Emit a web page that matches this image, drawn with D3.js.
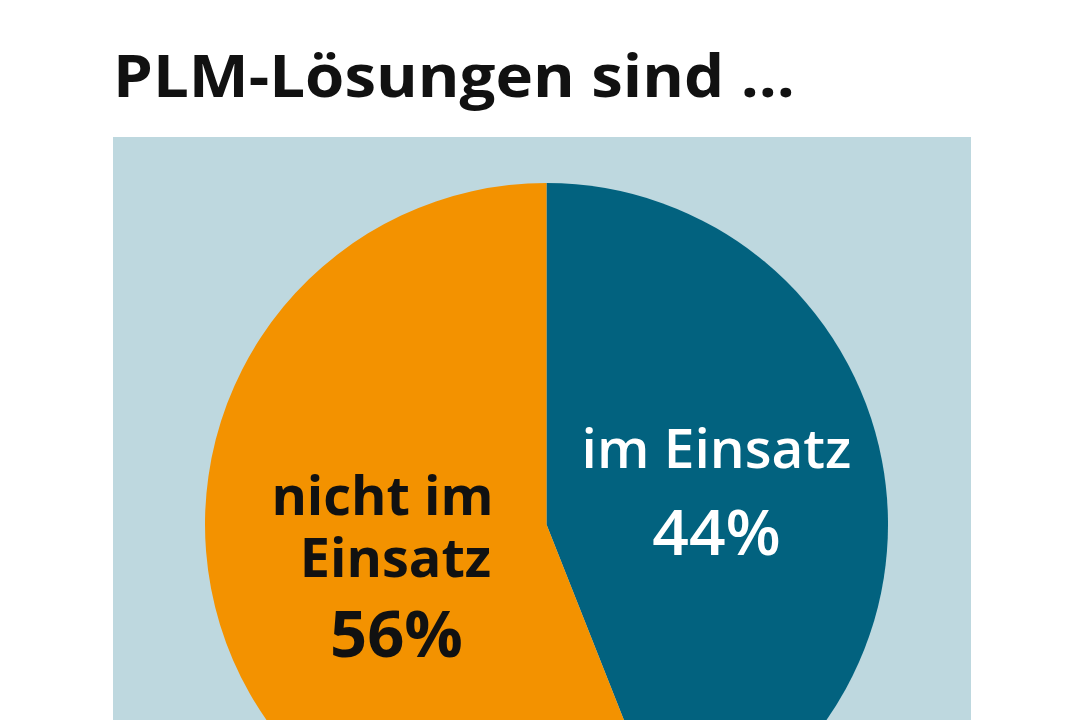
<!DOCTYPE html>
<html>
<head>
<meta charset="utf-8">
<script src="https://cdn.jsdelivr.net/npm/d3@7"></script>
<style>
  html, body { margin: 0; padding: 0; background: #ffffff; }
  svg { display: block; }
</style>
</head>
<body>
<svg id="chart" width="1080" height="720"></svg>
<script>
// ---- data ----
const title = "PLM-Lösungen sind ...";
const categories = ["im Einsatz", "nicht im Einsatz"];
const labelLines = [["im Einsatz"], ["nicht im", "Einsatz"]];
const values = [44, 56];
const colors = ["#02627f", "#f39200"];
const textColors = ["#ffffff", "#111111"];

// ---- layout ----
const W = 1080, H = 720;
const svg = d3.select("#chart");
const font = "'Open Sans', 'DejaVu Sans', sans-serif";

// background panel
svg.append("rect")
  .attr("x", 113).attr("y", 137)
  .attr("width", 858).attr("height", H - 137)
  .attr("fill", "#bed8df");

// title
svg.append("text")
  .attr("x", 113).attr("y", 97)
  .attr("font-family", font)
  .attr("font-weight", 700)
  .attr("font-size", 59)
  .attr("fill", "#111111")
  .attr("textLength", 682)
  .attr("lengthAdjust", "spacingAndGlyphs")
  .text(title);

const cx = 546.5, cy = 524.5, r = 341.5;
const pie = d3.pie().sort(null).value(d => d);
const arcs = pie(values);
const arc = d3.arc().innerRadius(0).outerRadius(r);

const g = svg.append("g").attr("transform", `translate(${cx},${cy})`);
g.selectAll("path.slice")
  .data(arcs)
  .join("path")
  .attr("class", "slice")
  .attr("d", arc)
  .attr("fill", (d, i) => colors[i]);

// labels
const labelArc = d3.arc().innerRadius(0).outerRadius(2 * 168);
const fmt = d => d + "%";
const labelSpecs = [
  { lineX: [0], lineY: [-25], pctX: 0, pctY: 62, lineSize: 55, pctSize: 64, dx: 5, weight: 600 },
  { lineX: [-8, 5], lineY: [-41, 21], pctX: 6, pctY: 101, lineSize: 54, pctSize: 65, dx: 9, weight: 700 }
];
arcs.forEach((a, i) => {
  const [lx, ly] = labelArc.centroid(a);
  const spec = labelSpecs[i];
  const t = g.append("g").attr("transform", `translate(${lx + spec.dx},${ly})`);
  labelLines[i].forEach((line, j) => {
    t.append("text")
      .attr("x", spec.lineX[j]).attr("y", spec.lineY[j])
      .attr("text-anchor", "middle")
      .attr("font-family", font)
      .attr("font-weight", spec.weight)
      .attr("font-size", spec.lineSize)
      .attr("fill", textColors[i])
      .text(line);
  });
  t.append("text")
    .attr("x", spec.pctX).attr("y", spec.pctY)
    .attr("text-anchor", "middle")
    .attr("font-family", font)
    .attr("font-weight", spec.weight)
    .attr("font-size", spec.pctSize)
    .attr("fill", textColors[i])
    .text(fmt(values[i]));
});
</script>
</body>
</html>
